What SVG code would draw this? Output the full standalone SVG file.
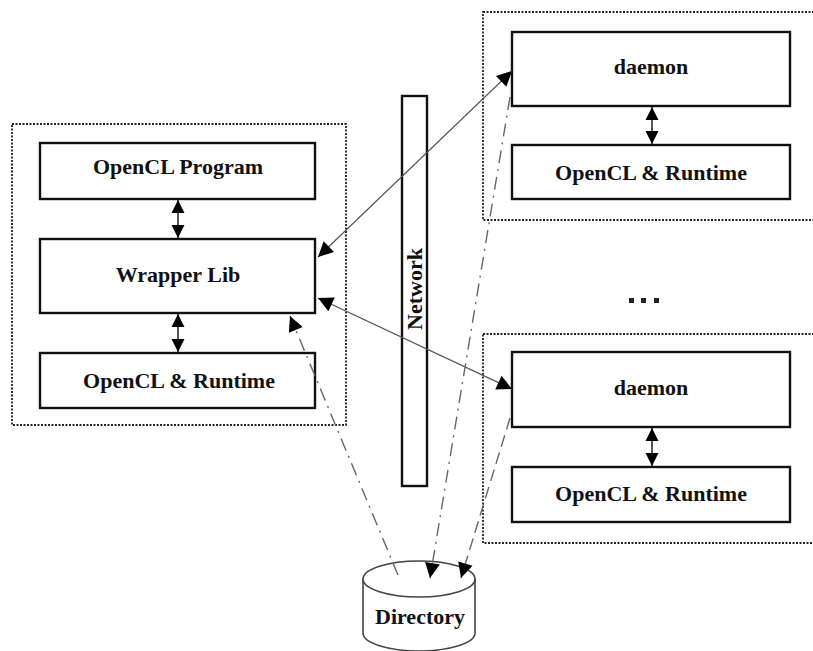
<svg xmlns="http://www.w3.org/2000/svg" width="813" height="651" viewBox="0 0 813 651">
<style>
.cont{fill:none;stroke:#222;stroke-width:1.8;stroke-dasharray:2 1.5}
.box{fill:#fff;stroke:#111;stroke-width:2.4}
.lbl{font-family:"Liberation Serif","Times New Roman",serif;font-weight:bold;font-size:22px;fill:#111;text-anchor:middle}
.solid{fill:none;stroke:#555;stroke-width:1.3}
.dd{fill:none;stroke:#666;stroke-width:1.4;stroke-dasharray:13 6 2 6}
.dash{fill:none;stroke:#666;stroke-width:1.4;stroke-dasharray:12 6}
.dbl{fill:none;stroke:#111;stroke-width:1.4}
</style>
<defs>
<marker id="big" viewBox="0 0 10 10" refX="10" refY="5" markerUnits="userSpaceOnUse" markerWidth="19" markerHeight="15" orient="auto-start-reverse">
<path d="M0,0 L10,5 L0,10 z" fill="#000"/>
</marker>
<marker id="small" viewBox="0 0 10 10" refX="10" refY="5" markerUnits="userSpaceOnUse" markerWidth="13" markerHeight="14" orient="auto-start-reverse">
<path d="M0,0 L10,5 L0,10 z" fill="#000"/>
</marker>
</defs>
<rect width="813" height="651" fill="#fff"/>

<g id="client">
<rect class="cont" x="12" y="124" width="334" height="301"/>
</g>
<g id="server1">
<rect class="cont" x="483" y="12" width="340" height="208"/>
</g>
<g id="server2">
<rect class="cont" x="483" y="334" width="340" height="209"/>
</g>

<g id="opencl-program">
<rect class="box" x="40" y="143" width="275" height="56"/>
<text class="lbl" x="178" y="174">OpenCL Program</text>
</g>
<g id="wrapper-lib">
<rect class="box" x="40" y="239" width="275" height="74"/>
<text class="lbl" x="178" y="282">Wrapper Lib</text>
</g>
<g id="opencl-runtime-client">
<rect class="box" x="40" y="353" width="275" height="55"/>
<text class="lbl" x="179" y="388">OpenCL &amp; Runtime</text>
</g>

<g id="network">
<rect class="box" x="402" y="96" width="25" height="390"/>
<text class="lbl" transform="translate(422,289) rotate(-90)">Network</text>
</g>

<g id="daemon1">
<rect class="box" x="512" y="32" width="278" height="74"/>
<text class="lbl" x="651" y="74">daemon</text>
</g>
<g id="opencl-runtime-1">
<rect class="box" x="512" y="145" width="278" height="54"/>
<text class="lbl" x="651" y="180">OpenCL &amp; Runtime</text>
</g>

<g id="ellipsis">
<rect x="629" y="298" width="5" height="5" fill="#222"/>
<rect x="641" y="298" width="5" height="5" fill="#222"/>
<rect x="654" y="298" width="5" height="5" fill="#222"/>
</g>

<g id="daemon2">
<rect class="box" x="512" y="352" width="278" height="75"/>
<text class="lbl" x="651" y="395">daemon</text>
</g>
<g id="opencl-runtime-2">
<rect class="box" x="512" y="467" width="278" height="55"/>
<text class="lbl" x="651" y="501">OpenCL &amp; Runtime</text>
</g>

<g id="directory">
<path d="M363,579 L363,633 A56,18 0 0 0 475,633 L475,579" fill="#fff" stroke="#444" stroke-width="1.6"/>
<ellipse cx="419" cy="579" rx="56" ry="18" fill="#fff" stroke="#444" stroke-width="1.6"/>
<text class="lbl" x="420" y="624">Directory</text>
</g>

<g id="connectors">
<line class="dbl" x1="178" y1="200" x2="178" y2="238" marker-start="url(#small)" marker-end="url(#small)"/>
<line class="dbl" x1="178" y1="314" x2="178" y2="352" marker-start="url(#small)" marker-end="url(#small)"/>
<line class="dbl" x1="652" y1="107" x2="652" y2="144" marker-start="url(#small)" marker-end="url(#small)"/>
<line class="dbl" x1="652" y1="428" x2="652" y2="466" marker-start="url(#small)" marker-end="url(#small)"/>
<line class="solid" x1="318" y1="257" x2="512" y2="71" marker-start="url(#big)" marker-end="url(#big)"/>
<line class="solid" x1="318" y1="298" x2="512" y2="389" marker-start="url(#big)" marker-end="url(#big)"/>
<line class="dd" x1="398" y1="575" x2="290" y2="316" marker-end="url(#big)"/>
<line class="dd" x1="510" y1="97" x2="430" y2="578" marker-end="url(#big)"/>
<line class="dash" x1="510" y1="418" x2="461" y2="578" marker-end="url(#big)"/>
</g>
</svg>
